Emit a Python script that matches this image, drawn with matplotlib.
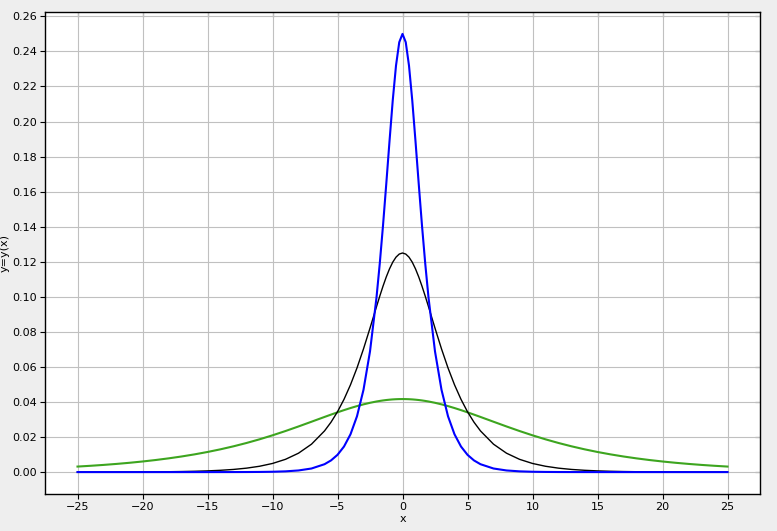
import matplotlib
matplotlib.use("Agg")
import matplotlib.pyplot as plt
from matplotlib.ticker import FormatStrFormatter

# Shared x positions
x_right = [0, 0.25, 0.5, 0.75, 1, 1.25, 1.5, 1.75, 2, 2.5, 3, 3.5, 4, 4.5, 5, 5.5, 6,
           7, 8, 9, 10, 11, 12, 13, 14, 15, 16, 17, 18, 19, 20, 21, 22, 23, 24, 25]
x = [-v for v in x_right[:0:-1]] + x_right

# Blue curve (narrow, peak 0.25), values at x_right
blue_half = [0.25, 0.24526, 0.23189, 0.21212, 0.18874, 0.16427, 0.14061, 0.11888, 0.09963,
             0.06884, 0.04697, 0.03187, 0.02157, 0.01458, 0.009847, 0.006651, 0.004491,
             0.002047, 0.000934, 0.000426, 0.000194, 0.0000885, 0.0000403, 0.0000184,
             0.0000084, 0.0000038, 0.0000017, 0.0000008, 0.0000004, 0.0000002, 0.0000001,
             0.0, 0.0, 0.0, 0.0, 0.0]
# Black curve (peak 0.125)
black_half = [0.125, 0.12440, 0.12263, 0.11977, 0.11594, 0.11132, 0.10606, 0.10035, 0.09437,
              0.08214, 0.07030, 0.05944, 0.04982, 0.04150, 0.03442, 0.02846, 0.02348,
              0.01593, 0.01078, 0.007289, 0.004923, 0.003325, 0.002246, 0.001516, 0.001024,
              0.000691, 0.000467, 0.000315, 0.000213, 0.000144, 0.0000971, 0.0000655,
              0.0000442, 0.0000299, 0.0000202, 0.0000136]
# Green curve (wide, peak ~0.0417)
green_half = [0.041667, 0.041644, 0.041578, 0.041467, 0.041312, 0.041115, 0.040876, 0.040597,
              0.040278, 0.039531, 0.038648, 0.037646, 0.036542, 0.035353, 0.034099, 0.032794,
              0.031456, 0.028736, 0.026037, 0.023434, 0.020978, 0.018695, 0.016606, 0.014709,
              0.013001, 0.011473, 0.010109, 0.008899, 0.007828, 0.006881, 0.006046, 0.005311,
              0.004664, 0.004095, 0.003594, 0.003154]

blue = blue_half[:0:-1] + blue_half
black = black_half[:0:-1] + black_half
green = green_half[:0:-1] + green_half

x_ticks = [-25, -20, -15, -10, -5, 0, 5, 10, 15, 20, 25]
y_ticks = [0.00, 0.02, 0.04, 0.06, 0.08, 0.10, 0.12, 0.14, 0.16, 0.18, 0.20, 0.22, 0.24, 0.26]

plt.rcParams['font.family'] = ['DejaVu Sans']
fig = plt.figure(figsize=(7.77, 5.31), dpi=100, facecolor='#eeeeee')
ax = fig.add_axes([45/777, 1 - 494/531, (760-45)/777, (494-12)/531])
ax.set_facecolor('white')

ax.plot(x, green, color='#3da51f', lw=1.5, zorder=3)
ax.plot(x, black, color='black', lw=1.0, zorder=4)
ax.plot(x, blue, color='#0000ff', lw=1.5, zorder=5)

ax.set_xlim(-27.5, 27.5)
ax.set_ylim(-0.0125, 0.2625)
ax.set_xticks(x_ticks)
ax.set_yticks(y_ticks)
ax.yaxis.set_major_formatter(FormatStrFormatter('%.2f'))
ax.grid(True, color='#c0c0c0', lw=0.8, zorder=0)
ax.set_axisbelow(True)
ax.tick_params(direction='out', length=3.5, width=0.8, labelsize=8, pad=2, colors='black')
for s in ax.spines.values():
    s.set_linewidth(1.0)
    s.set_color('black')

secx = ax.secondary_xaxis('top')
secx.set_xticks(x_ticks)
secx.tick_params(direction='in', length=3.5, width=0.8, labeltop=False)
secx.spines['top'].set_visible(False)
secy = ax.secondary_yaxis('right')
secy.set_yticks(y_ticks)
secy.tick_params(direction='in', length=3.5, width=0.8, labelright=False)
secy.spines['right'].set_visible(False)

ax.set_xlabel('x', fontsize=8, labelpad=2)
ax.set_ylabel('y=y(x)', fontsize=8, labelpad=2)

fig.savefig('out.png', dpi=100, facecolor=fig.get_facecolor())
